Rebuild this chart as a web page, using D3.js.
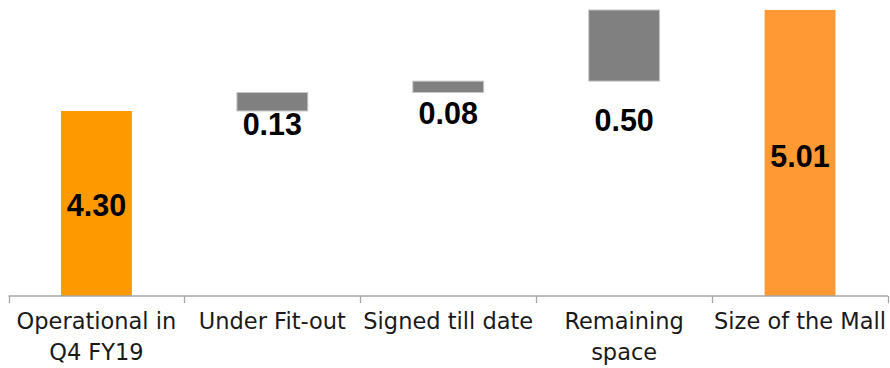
<!DOCTYPE html>
<html>
<head>
<meta charset="utf-8">
<script src="https://cdn.jsdelivr.net/npm/d3@7"></script>
<style>
  html, body { margin: 0; padding: 0; background: #fff; }
  svg { display: block; }
</style>
</head>
<body>
<div id="chart"></div>
<script>
// ---- data ----
const categories = [["Operational in", "Q4 FY19"], ["Under Fit-out"], ["Signed till date"], ["Remaining", "space"], ["Size of the Mall"]];
const barType = ["total", "delta", "delta", "delta", "total"];
const values = [4.30, 0.13, 0.08, 0.50, 5.01];
const valueLabels = ["4.30", "0.13", "0.08", "0.50", "5.01"];
const labelAt = [3.56, 4.13, 4.21, 4.16, 3.91]; // label baseline, in value units
const yDomain = [3.0, 5.08];

// ---- layout ----
const W = 890, H = 368;
const svg = d3.select("#chart").append("svg").attr("width", W).attr("height", H);

const x = d3.scaleBand().domain(d3.range(categories.length)).range([8.5, 888]).padding(0);
const y = d3.scaleLinear().domain(yDomain).range([296, 0]);
const barW = x.bandwidth() * 0.403;

// compute waterfall extents
let running = 0;
const bars = values.map((v, i) => {
  let lo, hi;
  if (barType[i] === "total") { lo = yDomain[0]; hi = v; running = v; }
  else { lo = running; hi = running + v; running = hi; }
  return { i, lo, hi, type: barType[i], color: i === 0 ? "#FF9900" : (barType[i] === "total" ? "#FF9933" : "#808080") };
});

svg.append("g").selectAll("rect").data(bars).join("rect")
  .attr("x", d => x(d.i) + (x.bandwidth() - barW) / 2)
  .attr("width", barW)
  .attr("y", d => y(d.hi))
  .attr("height", d => y(d.lo) - y(d.hi))
  .attr("fill", d => d.color)
  .attr("stroke", d => d.type === "delta" ? "#c8c8c8" : "none")
  .attr("stroke-width", 1);

// axis
const axisG = svg.append("g").attr("transform", `translate(0,${y(yDomain[0])})`);
axisG.append("line").attr("x1", 8.5).attr("x2", 888).attr("y1", 0).attr("y2", 0)
  .attr("stroke", "#a6a6a6").attr("stroke-width", 1.3);
const tickXs = d3.range(categories.length + 1).map(i => i < categories.length ? x(i) : x(categories.length - 1) + x.bandwidth());
axisG.selectAll("line.tick").data(tickXs).join("line").attr("class", "tick")
  .attr("x1", d => Math.round(d) + 0.5).attr("x2", d => Math.round(d) + 0.5)
  .attr("y1", 0).attr("y2", 7).attr("stroke", "#a6a6a6").attr("stroke-width", 1.3);

// category labels
const catG = svg.append("g");
categories.forEach((lines, i) => {
  const t = catG.append("text")
    .attr("x", x(i) + x.bandwidth() / 2)
    .attr("y", 329)
    .attr("text-anchor", "middle")
    .attr("font-family", "'DejaVu Sans', sans-serif")
    .attr("font-size", 22.5)
    .attr("fill", "#1a1a1a");
  lines.forEach((ln, k) => {
    t.append("tspan").attr("x", x(i) + x.bandwidth() / 2).attr("dy", k === 0 ? 0 : 31).text(ln);
  });
});

// value labels
svg.append("g").selectAll("text").data(bars).join("text")
  .attr("x", d => x(d.i) + x.bandwidth() / 2)
  .attr("y", d => y(labelAt[d.i]))
  .attr("text-anchor", "middle")
  .attr("font-family", "'Liberation Sans', Arial, sans-serif")
  .attr("font-weight", "bold")
  .attr("font-size", 30.5)
  .attr("fill", "#000")
  .text(d => valueLabels[d.i]);
</script>
</body>
</html>
